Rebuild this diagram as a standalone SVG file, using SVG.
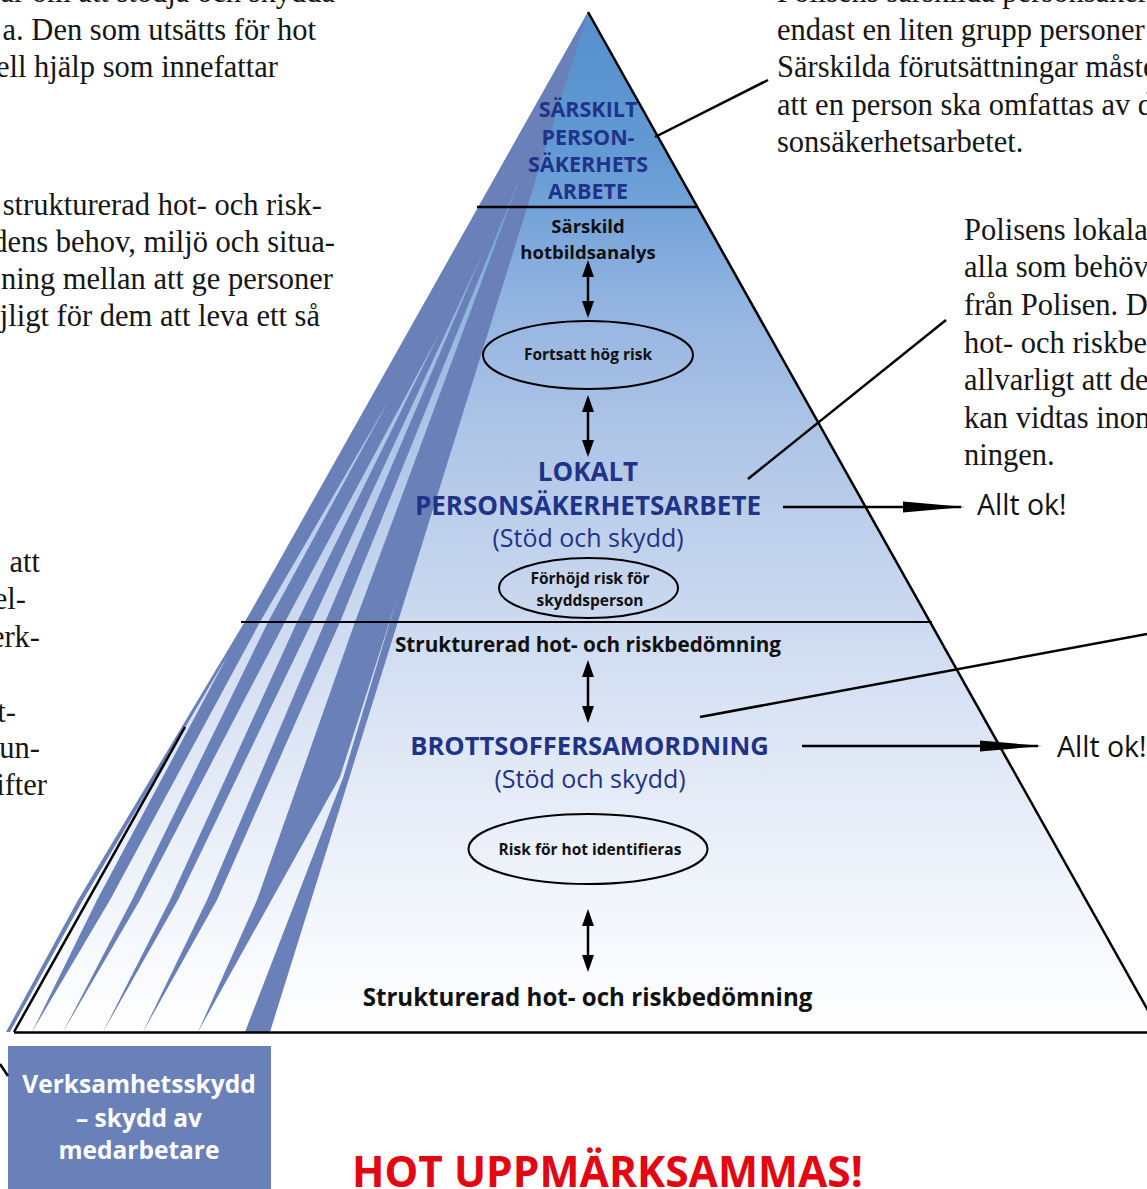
<svg xmlns="http://www.w3.org/2000/svg" width="1147" height="1189" viewBox="0 0 1147 1189">
<defs>
<linearGradient id="pyrGrad" gradientUnits="userSpaceOnUse" x1="0" y1="12" x2="0" y2="1032">
<stop offset="0" stop-color="#5590cd"/>
<stop offset="0.13" stop-color="#6199d3"/>
<stop offset="0.19" stop-color="#72a2d9"/>
<stop offset="0.28" stop-color="#91b3e0"/>
<stop offset="0.40" stop-color="#abc3e6"/>
<stop offset="0.50" stop-color="#bccfeb"/>
<stop offset="0.60" stop-color="#cddaf0"/>
<stop offset="0.73" stop-color="#e0e8f6"/>
<stop offset="0.87" stop-color="#f1f5fb"/>
<stop offset="1" stop-color="#ffffff"/>
</linearGradient>
<marker id="vhead" markerUnits="userSpaceOnUse" markerWidth="17" markerHeight="12" refX="13" refY="6" orient="auto-start-reverse">
<path d="M0,0 L17,6 L0,12 Z" fill="#000"/>
</marker>
<marker id="hhead" markerUnits="userSpaceOnUse" markerWidth="62" markerHeight="12" refX="58" refY="6" orient="auto">
<path d="M0,0.5 L62,6 L0,11.5 Z" fill="#000"/>
</marker>
<style>
.serif{font-family:"Liberation Serif","Times New Roman",serif;font-size:30.5px;fill:#161616}
.end{text-anchor:end}
.sans{font-family:"Open Sans","Noto Sans","Liberation Sans",sans-serif}
.c{text-anchor:middle}
.b{font-weight:700}
.navy{fill:#1f3388}
.blk{fill:#111}
.ell{fill:none;stroke:#000;stroke-width:2}
.conn{stroke:#000;stroke-width:2.5;fill:none}
.lead{stroke:#000;stroke-width:2.5;fill:none}
.gap{fill:url(#pyrGrad)}
</style>
</defs>
<rect width="1147" height="1189" fill="#fff"/>

<!-- body text (serif columns) -->
<g id="text-left-1" class="serif end">
<text x="335" y="2">ar om att stödja och skydda</text>
<text x="316" y="39.5">a. Den som utsätts för hot</text>
<text x="278" y="77">ell hjälp som innefattar</text>
</g>
<g id="text-left-2" class="serif end">
<text x="322" y="215">strukturerad hot- och risk-</text>
<text x="335" y="252">dens behov, miljö och situa-</text>
<text x="333" y="289">ning mellan att ge personer</text>
<text x="320" y="326">öjligt för dem att leva ett så</text>
</g>
<g id="text-left-3" class="serif end">
<text x="40" y="572">att</text>
<text x="26" y="609">el-</text>
<text x="40" y="647">erk-</text>
<text x="16" y="722">t-</text>
<text x="40" y="758">un-</text>
<text x="47" y="795">ifter</text>
</g>
<g id="text-right-1" class="serif">
<text x="777" y="2">Polisens särskilda personsäkerhe</text>
<text x="777" y="39.5">endast en liten grupp personer</text>
<text x="777" y="77">Särskilda förutsättningar måste</text>
<text x="777" y="114.5">att en person ska omfattas av d</text>
<text x="777" y="152">sonsäkerhetsarbetet.</text>
</g>
<g id="text-right-2" class="serif">
<text x="964" y="240">Polisens lokala</text>
<text x="964" y="277">alla som behöve</text>
<text x="964" y="315">från Polisen. D</text>
<text x="964" y="353">hot- och riskbe</text>
<text x="964" y="390">allvarligt att det</text>
<text x="964" y="428">kan vidtas inom</text>
<text x="964" y="465">ningen.</text>
</g>

<!-- pyramid -->
<g id="pyramid">
<polygon points="588,12 1160,1032 14,1032" fill="url(#pyrGrad)"/>
<g id="fan">
<polygon points="588,12 250,613 78,900 6,1032 270,1032" fill="#6a80b9"/>
<polygon class="gap" points="10,1032 32,1032 97,900 228,655 83,900"/>
<polygon class="gap" points="32,1032 63,1032 132,900 268,622 389,400 260,622 110,900"/>
<polygon class="gap" points="63,1032 103,1032 170,900 297,622 441,330 285,622 140,900"/>
<polygon class="gap" points="103,1032 143,1032 207,900 325,622 484,250 312,622 178,900"/>
<polygon class="gap" points="143,1032 198,1032 257,900 355,622 523,170 340,622 217,900"/>
<polygon class="gap" points="198,1032 245,1032 343,778 397,598 340,777"/>
</g>
<line x1="588" y1="12" x2="1160" y2="1032" stroke="#000" stroke-width="2.5"/>
<line x1="14" y1="1032.5" x2="1147" y2="1032.5" stroke="#000" stroke-width="2.5"/>
<line x1="14" y1="1032" x2="185" y2="727" stroke="#000" stroke-width="2.5"/>
<line x1="477" y1="207" x2="697" y2="207" stroke="#000" stroke-width="2.5"/>
<line x1="241" y1="622" x2="932" y2="622" stroke="#000" stroke-width="2"/>
</g>

<!-- nodes -->
<g id="node-sarskilt" class="sans b c navy" font-size="21.5">
<text x="588" y="117">SÄRSKILT</text>
<text x="588" y="144.5">PERSON-</text>
<text x="588" y="171.5">SÄKERHETS</text>
<text x="588" y="198.5">ARBETE</text>
</g>
<g id="node-hotbildsanalys" class="sans b c blk" font-size="18.5">
<text x="588" y="233">Särskild</text>
<text x="588" y="259">hotbildsanalys</text>
</g>
<g id="node-fortsatt">
<ellipse class="ell" cx="588" cy="355" rx="105" ry="34"/>
<text class="sans b c blk" x="588" y="360" font-size="15.5">Fortsatt hög risk</text>
</g>
<g id="node-lokalt" class="sans c navy">
<text class="b" x="588" y="481" font-size="26">LOKALT</text>
<text class="b" x="588" y="515" font-size="26">PERSONSÄKERHETSARBETE</text>
<text x="588" y="547" font-size="25">(Stöd och skydd)</text>
</g>
<g id="node-forhojd">
<ellipse class="ell" cx="588.5" cy="588" rx="89.5" ry="30"/>
<text class="sans b c blk" x="590" y="583.5" font-size="15.5">Förhöjd risk för</text>
<text class="sans b c blk" x="590" y="605.5" font-size="15.5">skyddsperson</text>
</g>
<g id="node-strukturerad-1">
<text class="sans b c blk" x="588" y="652" font-size="20.7">Strukturerad hot- och riskbedömning</text>
</g>
<g id="node-brottsoffer" class="sans c navy">
<text class="b" x="589.5" y="755" font-size="25.6">BROTTSOFFERSAMORDNING</text>
<text x="590" y="788" font-size="25">(Stöd och skydd)</text>
</g>
<g id="node-risk">
<ellipse class="ell" cx="588" cy="849" rx="119.5" ry="35"/>
<text class="sans b c blk" x="590" y="855" font-size="15.5">Risk för hot identifieras</text>
</g>
<g id="node-strukturerad-2">
<text class="sans b c blk" x="587.5" y="1006" font-size="24.1">Strukturerad hot- och riskbedömning</text>
</g>
<g id="node-allt-ok-1">
<text class="sans blk" x="977" y="515" font-size="28.5">Allt ok!</text>
</g>
<g id="node-allt-ok-2">
<text class="sans blk" x="1057" y="757" font-size="28.5">Allt ok!</text>
</g>
<g id="node-verksamhetsskydd">
<rect x="8" y="1046" width="263" height="150" fill="#6a80b9"/>
<g class="sans b c" font-size="24.5" fill="#fff">
<text x="139" y="1093">Verksamhetsskydd</text>
<text x="139" y="1127">– skydd av</text>
<text x="139" y="1159">medarbetare</text>
</g>
</g>
<g id="node-hot">
<text class="sans b" x="352" y="1187" font-size="42.5" fill="#e30613">HOT UPPMÄRKSAMMAS!</text>
</g>

<!-- connectors -->
<g id="connectors">
<line class="conn" x1="588" y1="264" x2="588" y2="314" marker-start="url(#vhead)" marker-end="url(#vhead)"/>
<line class="conn" x1="588" y1="399" x2="588" y2="453" marker-start="url(#vhead)" marker-end="url(#vhead)"/>
<line class="conn" x1="588" y1="664" x2="588" y2="719" marker-start="url(#vhead)" marker-end="url(#vhead)"/>
<line class="conn" x1="588" y1="913" x2="588" y2="968" marker-start="url(#vhead)" marker-end="url(#vhead)"/>
<line class="conn" x1="783" y1="507" x2="961" y2="507" stroke-width="3" marker-end="url(#hhead)"/>
<line class="conn" x1="802" y1="746" x2="1038" y2="746" stroke-width="3" marker-end="url(#hhead)"/>
<line class="lead" x1="655" y1="137" x2="768" y2="80"/>
<line class="lead" x1="748" y1="479" x2="946" y2="320"/>
<line class="lead" x1="700" y1="717" x2="1147" y2="634"/>
<line class="lead" x1="0" y1="1064" x2="8" y2="1076"/>
</g>
</svg>
